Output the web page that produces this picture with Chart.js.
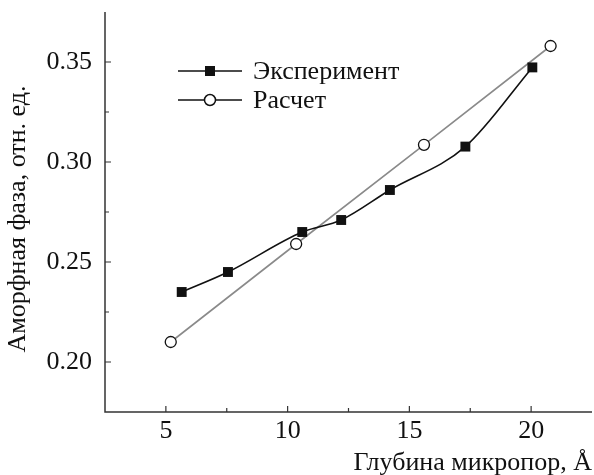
<!DOCTYPE html>
<html>
<head>
<meta charset="utf-8">
<script src="https://cdn.jsdelivr.net/npm/chart.js@4/dist/chart.umd.min.js"></script>
<style>
html,body{margin:0;padding:0;background:#fff;}
#wrap{width:594px;height:475px;position:relative;}
</style>
</head>
<body>
<div id="wrap"><canvas id="c" width="594" height="475"></canvas></div>
<script>
// ---- data ----
const expX = [5.65, 7.55, 10.6, 12.2, 14.2, 17.3, 20.05];
const expY = [0.235, 0.245, 0.265, 0.271, 0.286, 0.3077, 0.3473];
const calcX = [5.2, 10.35, 15.6, 20.8];
const calcY = [0.210, 0.259, 0.3086, 0.358];
const xTicks = [5, 10, 15, 20];
const yTicks = [0.20, 0.25, 0.30, 0.35];
const yTickLabels = ['0.20', '0.25', '0.30', '0.35'];
const xMinor = [7.5, 12.5, 17.5];
const yMinor = [0.225, 0.275, 0.325];
const seriesNames = ['Эксперимент', 'Расчет'];
const xTitle = 'Глубина микропор, Å';
const yTitle = 'Аморфная фаза, отн. ед.';

const FONT = "'Liberation Serif', 'Times New Roman', serif";
const AXIS_COLOR = '#333';
const TEXT_COLOR = '#111';

const decor = {
  id: 'decor',
  afterDraw(chart) {
    const ctx = chart.ctx;
    const xs = chart.scales.x, ys = chart.scales.y;
    const L = xs.left, R = xs.right, T = ys.top, B = ys.bottom;
    ctx.save();
    ctx.strokeStyle = AXIS_COLOR;
    ctx.lineWidth = 1.5;
    ctx.beginPath();
    ctx.moveTo(L, T); ctx.lineTo(L, B); ctx.lineTo(R, B);
    ctx.stroke();
    ctx.lineWidth = 1.2;
    ctx.beginPath();
    xTicks.forEach(v => { const p = xs.getPixelForValue(v); ctx.moveTo(p, B); ctx.lineTo(p, B - 6); });
    xMinor.forEach(v => { const p = xs.getPixelForValue(v); ctx.moveTo(p, B); ctx.lineTo(p, B - 4); });
    yTicks.forEach(v => { const p = ys.getPixelForValue(v); ctx.moveTo(L, p); ctx.lineTo(L + 6, p); });
    yMinor.forEach(v => { const p = ys.getPixelForValue(v); ctx.moveTo(L, p); ctx.lineTo(L + 4, p); });
    ctx.stroke();

    // y title
    ctx.fillStyle = TEXT_COLOR;
    ctx.font = '26px ' + FONT;
    ctx.textAlign = 'center';
    ctx.textBaseline = 'middle';
    ctx.save();
    ctx.translate(18, 219);
    ctx.rotate(-Math.PI / 2);
    ctx.fillText(yTitle, 0, 0);
    ctx.restore();
    // x title
    ctx.textAlign = 'right';
    ctx.textBaseline = 'alphabetic';
    ctx.fillText(xTitle, 592, 470);

    // legend
    const rows = [71, 100];
    chart.data.datasets.forEach((ds, i) => {
      const y = rows[i];
      ctx.strokeStyle = '#111';
      ctx.lineWidth = 1.5;
      ctx.beginPath(); ctx.moveTo(178, y); ctx.lineTo(242, y); ctx.stroke();
      if (ds.pointStyle === 'rect') {
        ctx.fillStyle = '#111';
        ctx.fillRect(205, y - 5, 10, 10);
      } else {
        ctx.fillStyle = '#fff';
        ctx.beginPath(); ctx.arc(210, y, 5.5, 0, Math.PI * 2); ctx.fill(); ctx.stroke();
      }
      ctx.fillStyle = TEXT_COLOR;
      ctx.font = '26px ' + FONT;
      ctx.textAlign = 'left';
      ctx.textBaseline = 'middle';
      ctx.fillText(ds.label, 253, y + 1);
    });
    ctx.restore();
  }
};

new Chart(document.getElementById('c'), {
  type: 'scatter',
  data: {
    datasets: [
      {
        label: seriesNames[0],
        data: expX.map((x, i) => ({x: x, y: expY[i]})),
        showLine: true,
        cubicInterpolationMode: 'monotone',
        borderColor: '#111',
        borderWidth: 1.6,
        pointStyle: 'rect',
        pointRadius: 7,
        pointBackgroundColor: '#111',
        pointBorderColor: '#111',
        pointBorderWidth: 0
      },
      {
        label: seriesNames[1],
        data: calcX.map((x, i) => ({x: x, y: calcY[i]})),
        showLine: true,
        tension: 0,
        borderColor: '#8a8a8a',
        borderWidth: 1.6,
        pointStyle: 'circle',
        pointRadius: 5.5,
        pointBackgroundColor: '#fff',
        pointBorderColor: '#111',
        pointBorderWidth: 1.3
      }
    ]
  },
  options: {
    responsive: false,
    animation: false,
    layout: {autoPadding: false, padding: {top: 12, right: 2, left: 0, bottom: 0}},
    plugins: {legend: {display: false}, tooltip: {enabled: false}},
    scales: {
      x: {
        type: 'linear', min: 2.5, max: 22.5,
        grid: {display: false, drawTicks: false},
        border: {display: false},
        afterBuildTicks: s => { s.ticks = xTicks.map(v => ({value: v})); },
        afterFit: s => { s.height = 63; s.paddingLeft = 0; s.paddingRight = 0; },
        ticks: {color: TEXT_COLOR, font: {family: FONT, size: 26}, padding: 4,
                callback: v => String(v)}
      },
      y: {
        type: 'linear', min: 0.175, max: 0.375,
        grid: {display: false, drawTicks: false},
        border: {display: false},
        afterBuildTicks: s => { s.ticks = yTicks.map(v => ({value: v})); },
        afterFit: s => { s.width = 105; s.paddingTop = 0; s.paddingBottom = 0; },
        ticks: {color: TEXT_COLOR, font: {family: FONT, size: 26}, padding: 13,
                callback: v => yTickLabels[yTicks.findIndex(t => Math.abs(t - v) < 1e-9)]}
      }
    }
  },
  plugins: [decor]
});
</script>
</body>
</html>
